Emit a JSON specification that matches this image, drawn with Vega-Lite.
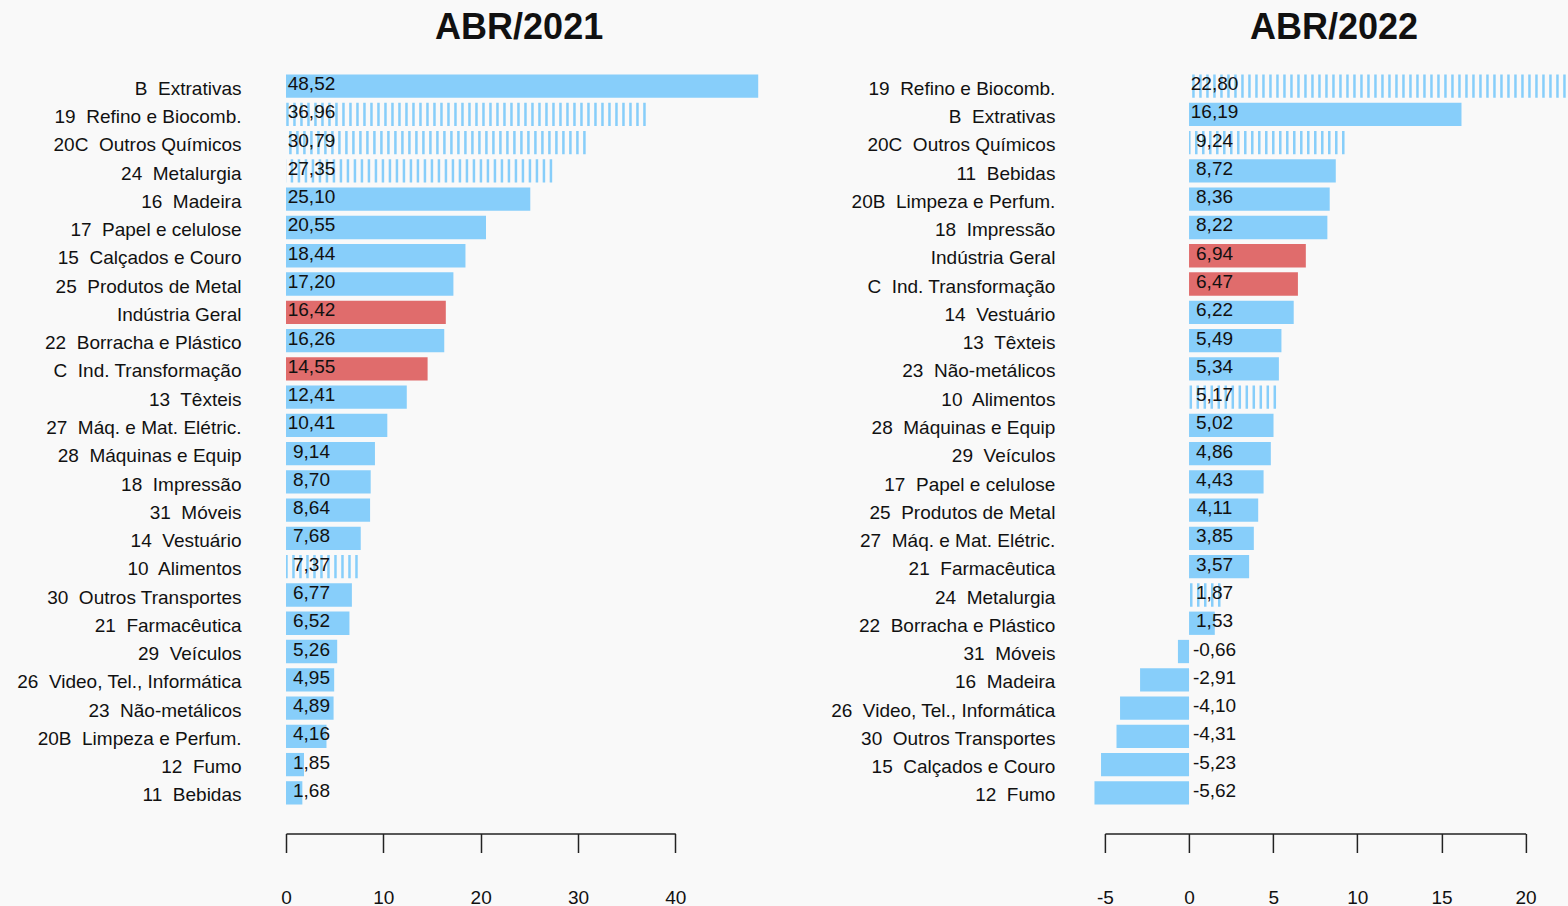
{
  "$schema": "https://vega.github.io/schema/vega-lite/v6.json",
  "background": "#F9F9F9",
  "padding": {"left": 16, "top": 9, "right": 0, "bottom": 0},
  "autosize": {"type": "pad"},
  "bounds": "flush",
  "spacing": 428.9,
  "config": {
    "view": {"stroke": null},
    "font": "Liberation Sans",
    "locale": {"number": {"decimal": ",", "thousands": ".", "grouping": [3], "currency": ["R$", ""], "minus": "-"}},
    "axis": {"labelFont": "Liberation Sans", "labelFontSize": 19, "labelColor": "#111111", "grid": false}
  },
  "datasets": {
    "a2021": [
      {"c": "B\u00a0 Extrativas", "v": 48.52, "t": "s"},
      {"c": "19\u00a0 Refino e Biocomb.", "v": 36.96, "t": "h"},
      {"c": "20C\u00a0 Outros Químicos", "v": 30.79, "t": "h"},
      {"c": "24\u00a0 Metalurgia", "v": 27.35, "t": "h"},
      {"c": "16\u00a0 Madeira", "v": 25.10, "t": "s"},
      {"c": "17\u00a0 Papel e celulose", "v": 20.55, "t": "s"},
      {"c": "15\u00a0 Calçados e Couro", "v": 18.44, "t": "s"},
      {"c": "25\u00a0 Produtos de Metal", "v": 17.20, "t": "s"},
      {"c": "Indústria Geral", "v": 16.42, "t": "g"},
      {"c": "22\u00a0 Borracha e Plástico", "v": 16.26, "t": "s"},
      {"c": "C\u00a0 Ind. Transformação", "v": 14.55, "t": "g"},
      {"c": "13\u00a0 Têxteis", "v": 12.41, "t": "s"},
      {"c": "27\u00a0 Máq. e Mat. Elétric.", "v": 10.41, "t": "s"},
      {"c": "28\u00a0 Máquinas e Equip", "v": 9.14, "t": "s"},
      {"c": "18\u00a0 Impressão", "v": 8.70, "t": "s"},
      {"c": "31\u00a0 Móveis", "v": 8.64, "t": "s"},
      {"c": "14\u00a0 Vestuário", "v": 7.68, "t": "s"},
      {"c": "10\u00a0 Alimentos", "v": 7.37, "t": "h"},
      {"c": "30\u00a0 Outros Transportes", "v": 6.77, "t": "s"},
      {"c": "21\u00a0 Farmacêutica", "v": 6.52, "t": "s"},
      {"c": "29\u00a0 Veículos", "v": 5.26, "t": "s"},
      {"c": "26\u00a0 Video, Tel., Informática", "v": 4.95, "t": "s"},
      {"c": "23\u00a0 Não-metálicos", "v": 4.89, "t": "s"},
      {"c": "20B\u00a0 Limpeza e Perfum.", "v": 4.16, "t": "s"},
      {"c": "12\u00a0 Fumo", "v": 1.85, "t": "s"},
      {"c": "11\u00a0 Bebidas", "v": 1.68, "t": "s"}
    ],
    "a2022": [
      {"c": "19\u00a0 Refino e Biocomb.", "v": 22.80, "t": "h"},
      {"c": "B\u00a0 Extrativas", "v": 16.19, "t": "s"},
      {"c": "20C\u00a0 Outros Químicos", "v": 9.24, "t": "h"},
      {"c": "11\u00a0 Bebidas", "v": 8.72, "t": "s"},
      {"c": "20B\u00a0 Limpeza e Perfum.", "v": 8.36, "t": "s"},
      {"c": "18\u00a0 Impressão", "v": 8.22, "t": "s"},
      {"c": "Indústria Geral", "v": 6.94, "t": "g"},
      {"c": "C\u00a0 Ind. Transformação", "v": 6.47, "t": "g"},
      {"c": "14\u00a0 Vestuário", "v": 6.22, "t": "s"},
      {"c": "13\u00a0 Têxteis", "v": 5.49, "t": "s"},
      {"c": "23\u00a0 Não-metálicos", "v": 5.34, "t": "s"},
      {"c": "10\u00a0 Alimentos", "v": 5.17, "t": "h"},
      {"c": "28\u00a0 Máquinas e Equip", "v": 5.02, "t": "s"},
      {"c": "29\u00a0 Veículos", "v": 4.86, "t": "s"},
      {"c": "17\u00a0 Papel e celulose", "v": 4.43, "t": "s"},
      {"c": "25\u00a0 Produtos de Metal", "v": 4.11, "t": "s"},
      {"c": "27\u00a0 Máq. e Mat. Elétric.", "v": 3.85, "t": "s"},
      {"c": "21\u00a0 Farmacêutica", "v": 3.57, "t": "s"},
      {"c": "24\u00a0 Metalurgia", "v": 1.87, "t": "h"},
      {"c": "22\u00a0 Borracha e Plástico", "v": 1.53, "t": "s"},
      {"c": "31\u00a0 Móveis", "v": -0.66, "t": "s"},
      {"c": "16\u00a0 Madeira", "v": -2.91, "t": "s"},
      {"c": "26\u00a0 Video, Tel., Informática", "v": -4.10, "t": "s"},
      {"c": "30\u00a0 Outros Transportes", "v": -4.31, "t": "s"},
      {"c": "15\u00a0 Calçados e Couro", "v": -5.23, "t": "s"},
      {"c": "12\u00a0 Fumo", "v": -5.62, "t": "s"}
    ]
  },
  "hconcat": [
    {
      "width": 389.3,
      "height": 735,
      "data": {"name": "a2021"},
      "title": {"text": "ABR/2021", "fontSize": 36, "fontWeight": "bold", "font": "Liberation Sans", "color": "#111111", "frame": "group", "anchor": "middle", "dx": 38.5, "offset": -2.5, "baseline": "alphabetic"},
      "encoding": {
        "y": {"field": "c", "type": "nominal", "sort": null,
          "scale": {"paddingInner": 0.176, "paddingOuter": 0.088},
          "axis": {"title": null, "domain": false, "ticks": false, "labelPadding": 45, "labelBaseline": "alphabetic", "labelOffset": 8.6, "labelLimit": 400}}
      },
      "layer": [
        {
          "mark": {"type": "bar", "clip": false},
          "encoding": {
            "x": {"field": "v", "type": "quantitative", "title": null,
              "scale": {"domain": [0, 40], "nice": false, "zero": true},
              "axis": {"values": [0, 10, 20, 30, 40], "offset": 26.5, "tickSize": 19, "tickWidth": 1.5, "tickColor": "#222222", "domainColor": "#222222", "domainWidth": 1.5, "labelPadding": 36, "labelFlush": false, "labelOverlap": false}},
            "fill": {"condition": {"test": "datum.t === 'g'", "value": "#E06C6C"}, "value": "#87CEFA"},
            "fillOpacity": {"condition": {"test": "datum.t === 'h'", "value": 0}, "value": 1}
          }
        },
        {
          "mark": {"type": "rule", "strokeWidth": 23.3, "strokeDash": [2.5, 4.5], "color": "#87CEFA", "clip": false},
          "encoding": {
            "x": {"field": "v", "type": "quantitative", "title": null},
            "x2": {"datum": 0},
            "strokeOpacity": {"condition": {"test": "datum.t === 'h'", "value": 1}, "value": 0}
          }
        },
        {
          "mark": {"type": "text", "align": "center", "baseline": "alphabetic", "dx": 25.5, "dy": 4, "fontSize": 19, "font": "Liberation Sans", "color": "#111111"},
          "encoding": {
            "x": {"datum": 0, "type": "quantitative", "title": null},
            "text": {"field": "v", "type": "quantitative", "format": ".2f"}
          }
        }
      ]
    },
    {
      "width": 420.7,
      "height": 735,
      "data": {"name": "a2022"},
      "title": {"text": "ABR/2022", "fontSize": 36, "fontWeight": "bold", "font": "Liberation Sans", "color": "#111111", "frame": "group", "anchor": "middle", "dx": 18.7, "offset": -2.5, "baseline": "alphabetic"},
      "encoding": {
        "y": {"field": "c", "type": "nominal", "sort": null,
          "scale": {"paddingInner": 0.176, "paddingOuter": 0.088},
          "axis": {"title": null, "domain": false, "ticks": false, "labelPadding": 50, "labelBaseline": "alphabetic", "labelOffset": 8.6, "labelLimit": 400}}
      },
      "layer": [
        {
          "mark": {"type": "bar", "clip": false},
          "encoding": {
            "x": {"field": "v", "type": "quantitative", "title": null,
              "scale": {"domain": [-5, 20], "nice": false, "zero": true},
              "axis": {"values": [-5, 0, 5, 10, 15, 20], "offset": 26.5, "tickSize": 19, "tickWidth": 1.5, "tickColor": "#222222", "domainColor": "#222222", "domainWidth": 1.5, "labelPadding": 36, "labelFlush": false, "labelOverlap": false}},
            "fill": {"condition": {"test": "datum.t === 'g'", "value": "#E06C6C"}, "value": "#87CEFA"},
            "fillOpacity": {"condition": {"test": "datum.t === 'h'", "value": 0}, "value": 1}
          }
        },
        {
          "mark": {"type": "rule", "strokeWidth": 23.3, "strokeDash": [2.5, 4.5], "color": "#87CEFA", "clip": false},
          "encoding": {
            "x": {"field": "v", "type": "quantitative", "title": null},
            "x2": {"datum": 0},
            "strokeOpacity": {"condition": {"test": "datum.t === 'h'", "value": 1}, "value": 0}
          }
        },
        {
          "mark": {"type": "text", "align": "center", "baseline": "alphabetic", "dx": 25.5, "dy": 4, "fontSize": 19, "font": "Liberation Sans", "color": "#111111"},
          "encoding": {
            "x": {"datum": 0, "type": "quantitative", "title": null},
            "text": {"field": "v", "type": "quantitative", "format": ".2f"}
          }
        }
      ]
    }
  ]
}
